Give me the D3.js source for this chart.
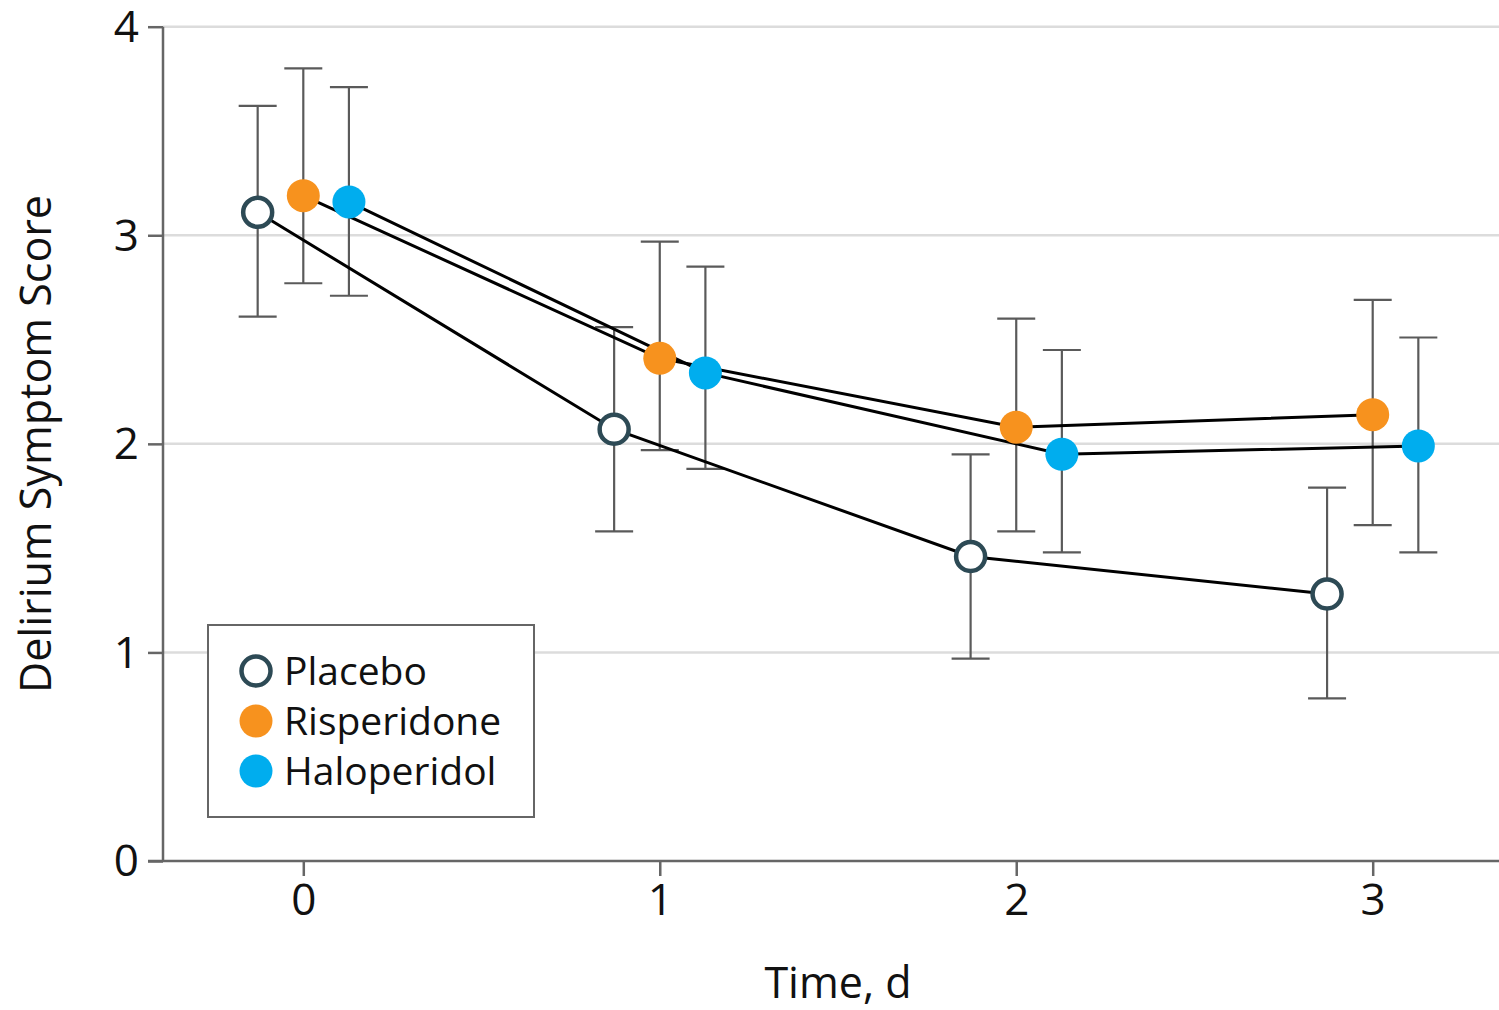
<!DOCTYPE html>
<html><head><meta charset="utf-8">
<script src="https://cdn.jsdelivr.net/npm/d3@7"></script>
<style>
html,body{margin:0;padding:0;background:#fff;}
text{font-family:"Open Sans","DejaVu Sans",sans-serif;fill:#111;}
</style></head>
<body>
<svg id="chart" width="1499" height="1010"></svg>
<script>
const days = [0, 1, 2, 3];
const seriesNames = ["Placebo", "Risperidone", "Haloperidol"];
const offsets = [-0.128, 0, 0.128];
const placeboMean = [3.11, 2.07, 1.46, 1.28];
const placeboLow  = [2.61, 1.58, 0.97, 0.78];
const placeboHigh = [3.62, 2.56, 1.95, 1.79];
const risperidoneMean = [3.19, 2.41, 2.08, 2.14];
const risperidoneLow  = [2.77, 1.97, 1.58, 1.61];
const risperidoneHigh = [3.80, 2.97, 2.60, 2.69];
const haloperidolMean = [3.16, 2.34, 1.95, 1.99];
const haloperidolLow  = [2.71, 1.88, 1.48, 1.48];
const haloperidolHigh = [3.71, 2.85, 2.45, 2.51];
const yTicks = [0, 1, 2, 3, 4];
const xTicks = [0, 1, 2, 3];
const xTitle = "Time, d";
const yTitle = "Delirium Symptom Score";

const series = [
  {name: seriesNames[0], mean: placeboMean, lo: placeboLow, hi: placeboHigh, off: offsets[0], fill: "#fff", stroke: "#2d4a55", sw: 4.5, r: 14.5},
  {name: seriesNames[1], mean: risperidoneMean, lo: risperidoneLow, hi: risperidoneHigh, off: offsets[1], fill: "#f7921e", stroke: "none", sw: 0, r: 16.5},
  {name: seriesNames[2], mean: haloperidolMean, lo: haloperidolLow, hi: haloperidolHigh, off: offsets[2], fill: "#00adee", stroke: "none", sw: 0, r: 16.5}
];

const svg = d3.select("#chart");
const plotLeft = 163, plotRight = 1499, plotTop = 26.7, plotBottom = 861;
const x = d3.scaleLinear().domain([0, 3]).range([303.3, 1372.7]);
const y = d3.scaleLinear().domain([0, 4]).range([plotBottom, plotTop]);

// gridlines
svg.append("g").selectAll("line").data(yTicks.filter(d => d > 0)).join("line")
  .attr("x1", plotLeft).attr("x2", plotRight)
  .attr("y1", d => y(d)).attr("y2", d => y(d))
  .attr("stroke", "#dcdcdc").attr("stroke-width", 2.5);

// y axis
const yAxis = svg.append("g").attr("transform", `translate(${plotLeft},0)`)
  .call(d3.axisLeft(y).tickValues(yTicks).tickSize(15).tickPadding(9).tickFormat(d3.format("d")));
yAxis.select(".domain").attr("stroke", "#666").attr("stroke-width", 2.5).attr("d", `M0,${plotTop}V${plotBottom}`);
yAxis.selectAll(".tick line").attr("stroke", "#666").attr("stroke-width", 2.5);
yAxis.selectAll(".tick text").style("font-size", "44px").attr("fill", "#111").attr("dy", "0.34em");

// x axis
const xAxis = svg.append("g").attr("transform", `translate(0,${plotBottom})`)
  .call(d3.axisBottom(x).tickValues(xTicks).tickSize(15).tickPadding(8).tickFormat(d3.format("d")));
xAxis.select(".domain").attr("stroke", "#666").attr("stroke-width", 2.5).attr("d", `M148,0H${plotRight}`);
xAxis.selectAll(".tick line").attr("stroke", "#666").attr("stroke-width", 2.5);
xAxis.selectAll(".tick text").style("font-size", "44px").attr("fill", "#111");

// titles
svg.append("text").attr("x", 838).attr("y", 998).attr("text-anchor", "middle")
  .style("font-size", "43px").text(xTitle);
svg.append("text").attr("transform", "translate(51,444) rotate(-90)").attr("text-anchor", "middle")
  .style("font-size", "43px").text(yTitle);

// error bars
const cap = 19;
series.forEach(s => {
  const g = svg.append("g");
  days.forEach((d, i) => {
    const cx = x(d + s.off);
    g.append("line").attr("x1", cx).attr("x2", cx).attr("y1", y(s.lo[i])).attr("y2", y(s.hi[i]))
      .attr("stroke", "#5a5a5a").attr("stroke-width", 2.2);
    [s.lo[i], s.hi[i]].forEach(v => {
      g.append("line").attr("x1", cx - cap).attr("x2", cx + cap).attr("y1", y(v)).attr("y2", y(v))
        .attr("stroke", "#5a5a5a").attr("stroke-width", 2.2);
    });
  });
});

// lines
const line = d3.line().x(d => d[0]).y(d => d[1]);
series.forEach(s => {
  svg.append("path").datum(days.map((d, i) => [x(d + s.off), y(s.mean[i])]))
    .attr("d", line).attr("fill", "none").attr("stroke", "#000").attr("stroke-width", 3);
});

// markers
series.forEach(s => {
  svg.append("g").selectAll("circle").data(days).join("circle")
    .attr("cx", d => x(d + s.off)).attr("cy", (d, i) => y(s.mean[i])).attr("r", s.r)
    .attr("fill", s.fill).attr("stroke", s.stroke).attr("stroke-width", s.sw);
});

// legend
const lg = svg.append("g");
lg.append("rect").attr("x", 208).attr("y", 625).attr("width", 326).attr("height", 192)
  .attr("fill", "#fff").attr("stroke", "#666").attr("stroke-width", 2);
series.forEach((s, i) => {
  const cy = 671 + i * 50;
  lg.append("circle").attr("cx", 256).attr("cy", cy).attr("r", s.r)
    .attr("fill", s.fill).attr("stroke", s.stroke).attr("stroke-width", s.sw);
  lg.append("text").attr("x", 284).attr("y", cy).attr("dy", "0.35em")
    .style("font-size", "39px").text(s.name);
});
</script>
</body></html>
